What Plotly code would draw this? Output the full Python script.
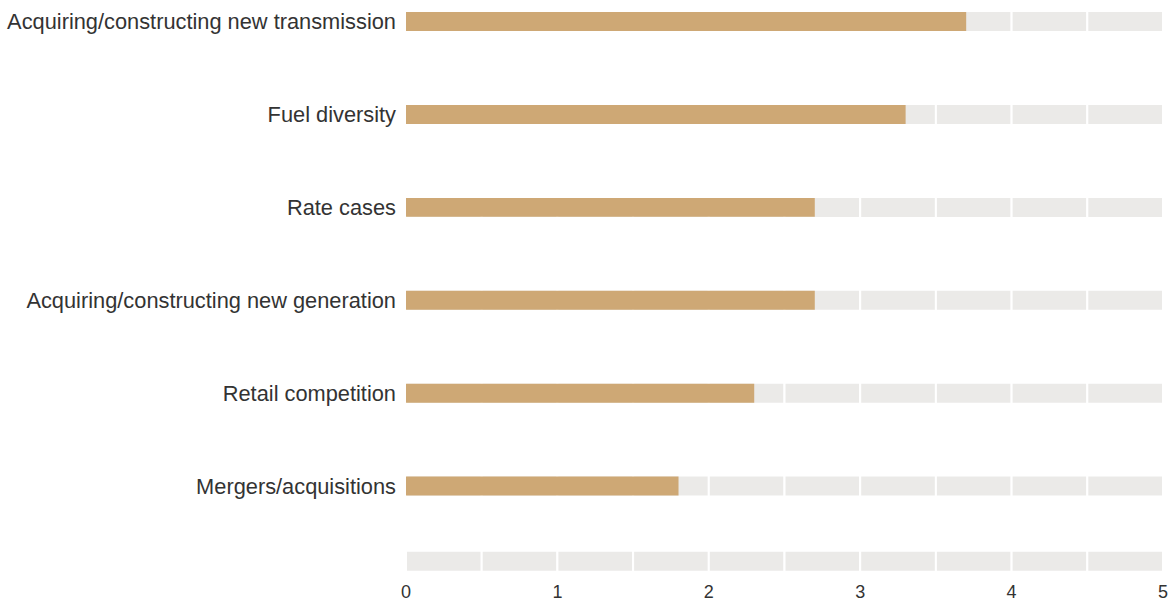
import plotly.graph_objects as go

# ---- data ----
categories = [
    "Acquiring/constructing new transmission",
    "Fuel diversity",
    "Rate cases",
    "Acquiring/constructing new generation",
    "Retail competition",
    "Mergers/acquisitions",
]
values = [3.7, 3.3, 2.7, 2.7, 2.3, 1.8]
x_ticks = [0, 1, 2, 3, 4, 5]
x_max = 5
segment_step = 0.5

# ---- layout constants ----
row_pos = [6, 5, 4, 3, 2, 1]
axis_track_pos = 0.19
bar_w = 0.204
track_w = 0.226
gold = "#CEA875"
grey = "#EBEAE8"
text_col = "#333333"
font_family = "Liberation Sans, Arial, Helvetica, sans-serif"

track_rows = row_pos + [axis_track_pos]
n_seg = int(round(x_max / segment_step))

fig = go.Figure()
for k in range(n_seg):
    fig.add_trace(go.Bar(
        y=track_rows,
        x=[segment_step] * len(track_rows),
        base=[k * segment_step] * len(track_rows),
        orientation="h",
        width=track_w,
        marker=dict(color=grey, line=dict(color="white", width=2)),
        hoverinfo="skip",
        showlegend=False,
    ))

fig.add_trace(go.Bar(
    y=row_pos,
    x=values,
    orientation="h",
    width=bar_w,
    marker=dict(color=gold, line=dict(width=0)),
    showlegend=False,
    hovertemplate="%{y}: %{x}<extra></extra>",
))

fig.update_layout(
    barmode="overlay",
    width=1170,
    height=601,
    margin=dict(l=406, r=7, t=3, b=22, autoexpand=False),
    paper_bgcolor="white",
    plot_bgcolor="white",
    font=dict(family=font_family, color=text_col),
    xaxis=dict(
        range=[0, x_max],
        tickvals=x_ticks,
        ticktext=[str(t) for t in x_ticks],
        showgrid=False,
        zeroline=False,
        showline=False,
        ticks="",
        tickfont=dict(size=18, color=text_col),
        fixedrange=True,
    ),
    yaxis=dict(
        range=[0, 6.2],
        tickvals=row_pos,
        ticktext=categories,
        showgrid=False,
        zeroline=False,
        showline=False,
        ticks="",
        ticklabelstandoff=9,
        tickfont=dict(size=21.8, color=text_col),
        fixedrange=True,
    ),
)

fig.write_html(
    "out.html",
    config={"displayModeBar": False},
    post_script="document.body.style.margin='0';document.body.style.overflow='hidden';",
)
